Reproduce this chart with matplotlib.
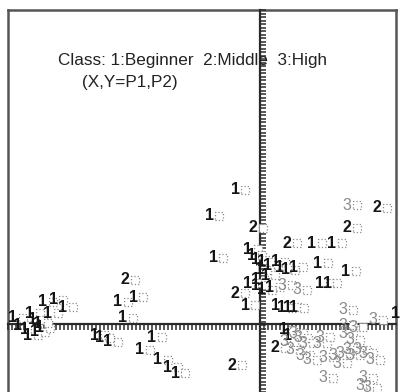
import numpy as np
import matplotlib
matplotlib.use("Agg")
from matplotlib import pyplot as plt
from matplotlib.transforms import offset_copy

# =========================
# DATA (P1, P2 scores per class)
# =========================
p1_beginner = [-0.50, -1.02, 1.04, 1.44, -0.94, 1.72, 1.16, 1.20, 1.34, 0.66,
               -0.24, -0.16, -0.08, 0.04, 0.16, 0.30, 0.40, 0.50, 0.00, 0.10,
               -0.10, -0.24, -0.10, 0.04, 0.20, -0.30, 0.32, 0.44, 0.56, 0.68,
               -2.84, -2.54, -2.74, -3.30, -3.20, -3.04, -2.16, -2.40, -2.04, -1.84,
               -1.70, -4.34, -4.14, -3.94, -4.24, -4.60, -4.94, -4.84, -4.70, -4.64,
               -4.50, -4.40, -4.54, -4.44, 2.70, 0.46, 0.56]
p2_beginner = [2.68, 2.16, 1.62, 1.62, 1.32, 1.06, 1.22, 0.82, 0.82, 1.14,
               1.50, 1.38, 1.28, 1.24, 1.18, 1.24, 1.12, 1.08, 1.08, 0.98,
               0.88, 0.82, 0.78, 0.68, 0.74, 0.38, 0.36, 0.32, 0.34, 0.32,
               0.44, 0.54, 0.12, -0.22, -0.28, -0.36, -0.26, -0.52, -0.72, -0.86,
               -0.98, 0.44, 0.48, 0.34, 0.22, 0.22, 0.12, -0.02, -0.12, -0.22,
               -0.16, -0.08, 0.08, 0.02, 0.22, -0.12, -0.22]

p1_middle = [-0.14, 1.74, 2.34, 0.54, -2.70, -0.50, 0.30, -0.56]
p2_middle = [1.92, 1.92, 2.32, 1.62, 0.88, 0.62, -0.48, -0.82]

p1_high = [1.74, 0.74, 0.44, 1.66, 2.26, 1.26, 2.06, 2.00, 2.14, 0.66,
           0.76, 0.86, 1.14, 1.20, 0.60, 0.80, 0.94, 1.26, 1.46, 1.60,
           1.74, 1.80, 1.94, 2.06, 1.54, 1.66, 1.80, 1.86, 1.66, 2.20, 0.48]
p2_high = [2.38, 0.68, 0.78, 0.28, 0.08, -1.08, -1.08, -1.22, -1.28, -0.18,
           -0.28, -0.38, -0.38, -0.26, -0.52, -0.62, -0.72, -0.66, -0.62, -0.58,
           -0.52, -0.62, -0.52, -0.58, -0.78, -0.18, -0.32, -0.06, -0.02, -0.72, -0.36]

classes = [("1", p1_beginner, p2_beginner, "#151515", "bold"),
           ("2", p1_middle, p2_middle, "#151515", "bold"),
           ("3", p1_high, p2_high, "#8a8a8a", "normal")]

title_lines = ["Class: 1:Beginner  2:Middle  3:High", "(X,Y=P1,P2)"]

# =========================
# FIGURE
# =========================
W, H = 409, 392
fig = plt.figure(figsize=(W / 100, H / 100), dpi=100)
rect = [8 / W, 0, 388 / W, 1 - 10 / H]

# ramka (bez dolnej krawedzi)
frame = fig.add_axes(rect)
frame.set_xticks([])
frame.set_yticks([])
frame.spines["bottom"].set_visible(False)
for s in ["left", "top", "right"]:
    frame.spines[s].set_linewidth(1.8)
    frame.spines[s].set_color("#555555")

ax = fig.add_axes(rect)
ax.patch.set_alpha(0)
ax.set_xlim(-5.04, 2.72)
ax.set_ylim(-1.36, 6.28)
ax.spines["top"].set_visible(False)
ax.spines["right"].set_visible(False)
ax.spines["left"].set_position(("data", 0))
ax.spines["bottom"].set_position(("data", 0))
for s in ["left", "bottom"]:
    ax.spines[s].set_linewidth(1.6)
    ax.spines[s].set_color("#2a2a2a")
ax.set_xticks(np.arange(-5.04, 2.72, 0.08))
ax.set_yticks(np.arange(-1.36, 6.28, 0.07))
ax.tick_params(axis="x", direction="out", length=4, width=1.1, color="#2a2a2a", labelbottom=False)
ax.tick_params(axis="y", direction="in", length=4, width=1.1, color="#2a2a2a", labelleft=False)

box_tr = offset_copy(ax.transData, fig=fig, x=10, y=0, units="dots")
for digit, xs, ys, col, wt in classes:
    ax.scatter(xs, ys, s=36, marker="s", facecolors="white", edgecolors="#8c8c8c",
               linewidths=0.9, linestyle=":", transform=box_tr, zorder=3)
for digit, xs, ys, col, wt in classes:
    for x, y in zip(xs, ys):
        ax.text(x, y, digit, color=col, fontsize=11.5, fontweight=wt,
                family="Liberation Sans", ha="center", va="center", zorder=4)

fig.text(58 / W, 1 - 61 / H, title_lines[0], fontsize=12.3, family="Liberation Sans",
         color="#222222", va="center", ha="left")
fig.text(82 / W, 1 - 82 / H, title_lines[1], fontsize=12.3, family="Liberation Sans",
         color="#222222", va="center", ha="left")

plt.savefig("out.png", dpi=100)
plt.close()
